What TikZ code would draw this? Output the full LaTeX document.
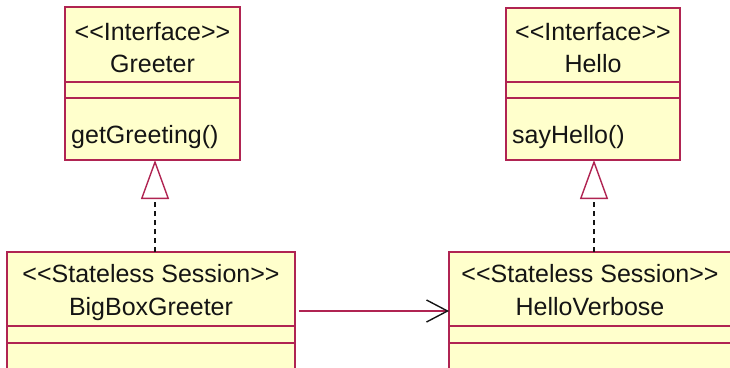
\documentclass[tikz,border=0pt]{standalone}
\usepackage{fontspec}
\setmainfont{Liberation Sans}
\usetikzlibrary{arrows.meta}
\definecolor{umlborder}{RGB}{176,36,82}
\definecolor{umlfill}{RGB}{255,255,204}
\definecolor{umltext}{RGB}{20,20,20}
% guillemet-free stereotype brackets
\newcommand\stereo[1]{\mbox{<}\mbox{<}#1\mbox{>}\mbox{>}}
\tikzset{
  classbox/.style={draw=umlborder, fill=umlfill, line width=1.4pt, rectangle,
    anchor=north west, inner sep=0pt, outer sep=0pt},
  sep/.style={draw=umlborder, line width=1.4pt},
  lbl/.style={font=\fontsize{25}{25}\selectfont, text=umltext, inner sep=0pt, anchor=base},
  lblleft/.style={lbl, anchor=base west},
  realize/.style={draw=umltext, line width=1.4pt, dash pattern=on 5pt off 4pt,
    -{Triangle[open, length=39pt, width=28pt, color=umlborder, fill=white, line width=1.4pt]}},
  assoc/.style={draw=umlborder, line width=1.4pt,
    -{Straight Barb[length=21pt, width=22pt, color=umltext, line width=1.4pt]}}
}
\begin{document}
\begin{tikzpicture}[x=1pt, y=-1pt]
\useasboundingbox (0,0) rectangle (730,367);
\clip (0,0) rectangle (730,367);
\fill[white] (0,0) rectangle (730,367);

% interface Greeter
\node[classbox, minimum width=175pt, minimum height=153pt] (greeter) at (65,7) {};
\draw[sep] (65,82) -- (240,82) (65,98) -- (240,98);
\node[lbl] (greeterst) at (152.5,40) {\stereo{Interface}};
\node[lbl] (greetername) at (152.5,72) {Greeter};
\node[lblleft] (greeterop) at (71,143) {getGreeting()};

% interface Hello
\node[classbox, minimum width=174pt, minimum height=152pt] (hello) at (506,8) {};
\draw[sep] (506,82) -- (680,82) (506,98) -- (680,98);
\node[lbl] (hellost) at (593,40) {\stereo{Interface}};
\node[lbl] (helloname) at (593,72) {Hello};
\node[lblleft] (helloop) at (512,143) {sayHello()};

% session bean BigBoxGreeter
\node[classbox, minimum width=288pt, minimum height=160pt] (bigbox) at (7,252) {};
\draw[sep] (7,326) -- (295,326) (7,343) -- (295,343);
\node[lbl] (bigboxst) at (151,282) {\stereo{Stateless Session}};
\node[lbl] (bigboxname) at (151,315) {BigBoxGreeter};

% session bean HelloVerbose
\node[classbox, minimum width=290pt, minimum height=160pt] (verbose) at (449,252) {};
\draw[sep] (449,326) -- (739,326) (449,343) -- (739,343);
\node[lbl] (verbosest) at (590,282) {\stereo{Stateless Session}};
\node[lbl] (verbosename) at (590,315) {HelloVerbose};

% realizations
\draw[realize] (bigbox.north -| 155,0) -- (greeter.south -| 155,0);
\draw[realize] (verbose.north -| 594,0) -- (hello.south -| 594,0);

% association
\coordinate (assocstart) at (299,311);
\draw[assoc] (assocstart) -- (verbose.west |- assocstart);
\end{tikzpicture}
\end{document}
